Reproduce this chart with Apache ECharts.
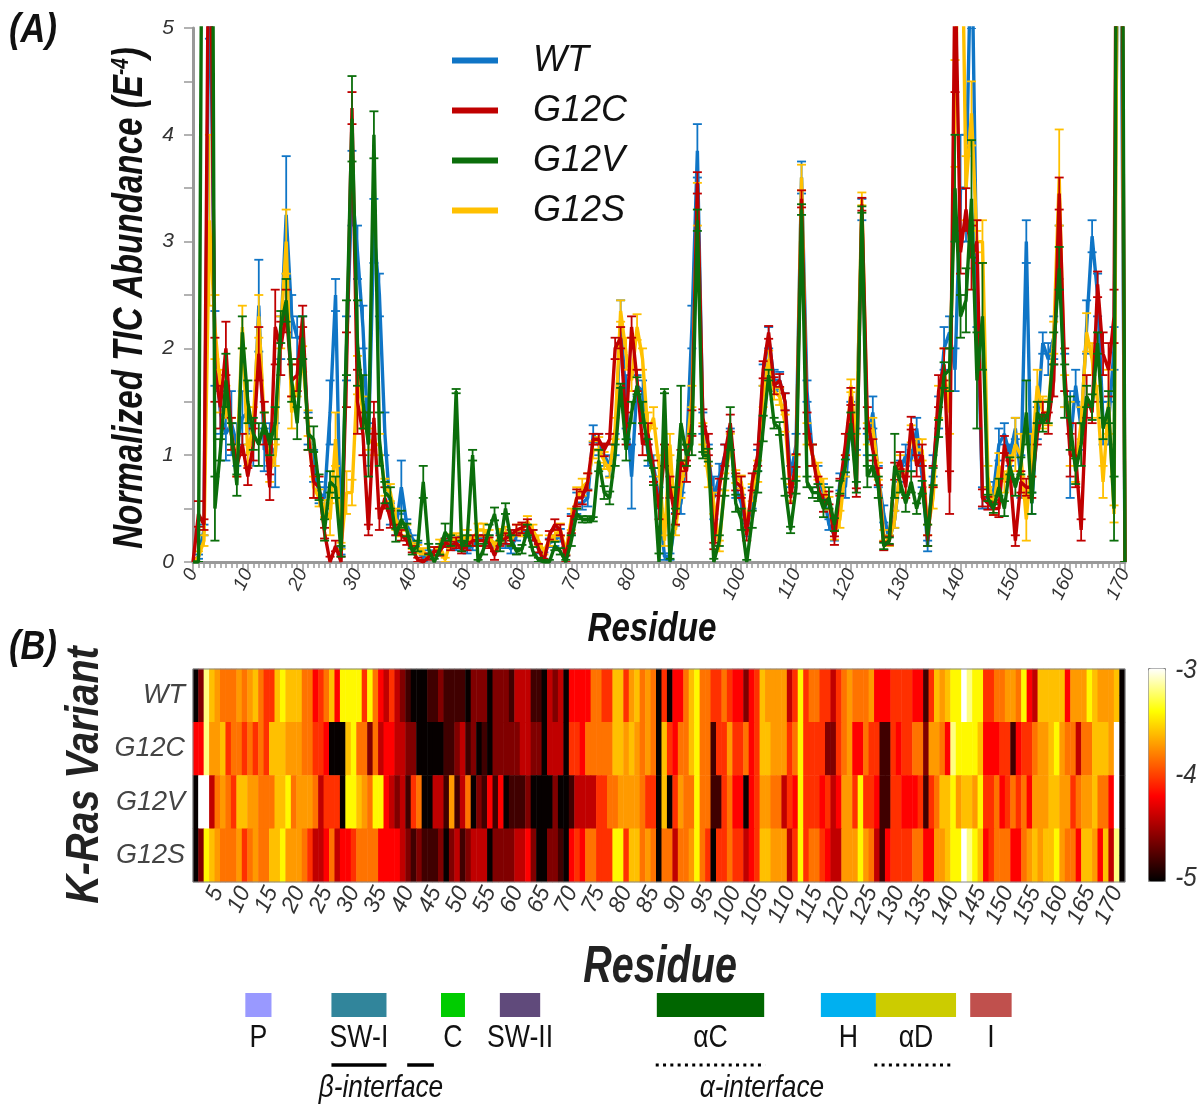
<!DOCTYPE html>
<html><head><meta charset="utf-8">
<style>html,body{margin:0;padding:0;background:#fff}#c{width:1197px;height:1105px}</style>
<script src="https://cdn.jsdelivr.net/npm/echarts@6/dist/echarts.min.js"></script>
</head><body><div id="c"></div>
<script>
const names=['WT','G12C','G12V','G12S'];
const valWT=[0,.05,.3,6,2,1.4,1.2,1.3,1.1,1.35,
1.4,1.1,2.4,1.05,1.1,1,2.1,3.25,2.3,2.1,
2.1,1.25,.9,.65,.6,1.4,2.5,.1,2,3.5,
2.9,2.2,1.1,3.1,2.5,1.2,.45,.3,.7,.35,
.22,.15,.03,.08,.1,.1,.18,.16,.15,.2,
.12,.15,.2,.25,.2,.15,.22,.18,.12,.25,
.3,.28,.25,.12,.06,.18,.2,.25,.1,.35,
.55,.55,.6,1.2,1.1,1,.9,1.1,2.25,1.5,
.8,1.65,1.6,1,.9,.6,.05,.05,.4,.55,
1,2.2,3.85,1.3,1,.6,.8,1,1.15,.7,
.55,.3,.6,.95,1.75,2.1,1.7,1.7,1.5,.8,
1.1,3.6,1.6,1,.8,.65,.35,.25,.75,.7,
1.4,1.15,3.3,1.1,1.4,.8,.45,.2,.4,.85,
1,.95,1.25,.8,.15,.9,1.4,2,2.15,1.8,
3.5,3.5,6,2.5,.6,.6,.65,1.1,1.2,1,
1.25,.8,3,.55,1.3,2.05,1.9,2.1,2.9,1.7,
1.1,1.65,1.25,2.2,3.05,2.5,1.3,1.3,2,8,0];
const valG12C=[0,.45,.35,7,1.8,1.45,2,1.2,.9,1.1,
.8,1.1,1.95,1.3,.7,2.2,2,2.35,1.7,1.75,
2.3,1.2,.75,.7,.27,0,.15,0,1.8,4.25,
1.5,1.2,.3,1.35,.4,.6,.4,.3,.25,.2,
.12,.02,0,.05,.1,.1,.18,.15,.18,.12,
.15,.2,.2,.2,.18,.06,.2,.22,.25,.3,
.32,.35,.25,.13,0,.25,.35,.3,.03,.35,
.6,.6,.75,1.15,1.15,1.05,1.15,2,2.1,1.25,
2.2,1.7,1.1,1.2,.85,.5,1,.7,.4,.95,
.85,1.3,3.55,1.35,1.1,.15,.7,1,1.3,.75,
.7,.25,.75,1,1.8,2.15,1.65,1.7,1.5,.6,
.95,3.4,1.3,1,.7,.55,.6,.2,.7,1.1,
1.55,.65,3.35,1.35,1.05,.8,.15,.2,.85,.95,
.7,1.3,.9,1,.2,.8,1.6,1.85,.65,5.6,
2.9,3.3,2.85,3,.6,.55,.5,.5,1.1,.85,
.2,.75,.7,.7,1.2,1.4,1.3,1.7,3.45,1.8,
1,1,.3,1.55,1.4,2.6,1.95,1.8,2.3,12,0];
const valG12V=[0,0,10,14,.5,1.05,1.7,1.2,.72,2.15,
1.5,1.2,1.1,1.3,1.1,1.3,2.2,2.45,1.7,1.3,
2.1,1.2,1.15,.7,.3,.75,.7,.1,2.1,4.15,
2.05,1.5,1.1,4,1.15,.65,.6,.25,.4,.3,
.1,.15,.75,.12,0,.12,.28,.2,1.6,.15,
.2,1,0,.12,.3,.45,.15,.5,.2,.1,
.12,.3,.1,.02,0,0,.15,.1,0,.2,
.45,.4,.4,.4,.95,.65,.6,1,1.65,1.05,
1.4,1.65,1.4,1.05,.8,0,1.6,0,.6,1.3,
1,1.1,3.2,1,1,0,.2,.7,1.25,.55,
.4,0,.4,.75,1.25,1.75,1.3,1.25,.7,.3,
.7,3.3,.75,.65,.65,.5,.6,.35,.7,.9,
1.3,.7,3.3,.8,.9,.7,.15,.2,.9,.75,
.55,.75,.5,.7,.25,.8,1.25,1.75,1.8,3.5,
2.3,2.45,3.4,1.7,2.3,.6,.5,.7,.5,.9,
.7,.9,1.4,.55,1.4,1.3,1.4,2,2.75,1.6,
1.3,.85,1.1,1.55,1.45,2.05,1.25,1.45,.5,14,0];
const valG12S=[0,.05,.2,3.2,2.2,1.6,1.5,1.2,.9,2.2,
1,1.3,2.3,1.3,.85,1,2.15,3,1.4,1.7,
1.9,1.3,.7,.6,.5,.4,1.15,.15,.65,.65,
1.75,1.4,1.15,1.1,1.1,.7,.65,.4,.3,.3,
.15,.12,.1,.05,.1,.15,.02,.2,.22,.2,
.25,.2,.3,.3,.25,.15,.25,.28,.2,.3,
.3,.38,.3,.2,.1,.2,.25,.3,.1,.4,
.6,.7,.75,1.05,1.05,.95,.85,1.25,2.35,1.95,
1.7,2.2,1.9,1.2,1.35,.9,.2,1.1,.3,.7,
1,1.55,3.35,1.2,.8,.55,.15,.75,1.1,.8,
.75,.35,.65,.85,1.55,1.9,1.6,1.55,1.3,.65,
.9,3.6,1.2,1,.85,.7,.55,.25,.4,.9,
1.65,1.1,3.4,1.2,1.25,.85,.25,.2,.4,.9,
.75,1.2,1.05,1.05,.3,.6,1.5,1.8,1.4,4.2,
7,3.5,4.2,3,3,.8,.5,.9,.75,.9,
1.1,1,.4,1,1.65,1.4,1.4,2.1,3.6,1.6,
1.2,.9,1.3,2.15,1.9,1.5,.75,1.5,.45,10,0];
const errWT=[0,.02,.05,1.1,.35,.2,.25,.3,.2,.25,
.2,.2,.43,.2,.2,.3,.2,.55,.2,.2,
.2,.15,.15,.1,.1,.3,.15,.03,.3,.35,
.25,.2,.2,.3,.2,.2,.1,.05,.25,.05,
.03,.03,.03,.03,.04,.04,.04,.04,.04,.04,
.04,.04,.05,.05,.05,.04,.05,.05,.04,.05,
.05,.05,.05,.04,.03,.04,.05,.06,.04,.1,
.1,.06,.08,.08,.1,.1,.1,.1,.2,.25,
.3,.1,.1,.1,.1,.1,.03,.03,.06,.1,
.1,.2,.25,.1,.1,.2,.12,.1,.1,.1,
.08,.06,.1,.1,.1,.1,.1,.08,.08,.1,
.1,.15,.1,.1,.1,.08,.05,.05,.08,.1,
.1,.1,.1,.1,.15,.1,.08,.05,.08,.1,
.1,.1,.1,.1,.05,.1,.15,.2,.15,.2,
.5,.5,1,.3,.1,.1,.1,.15,.1,.1,
.1,.2,.2,.1,.15,.1,.15,.2,.25,.25,
.5,.15,.2,.25,.15,.2,.2,.2,.2,1,0];
const errG12C=[0,.12,.05,1,.3,.2,.25,.15,.1,.1,
.08,.15,.25,.2,.12,.35,.25,.2,.15,.15,
.1,.15,.15,.1,.05,.05,.05,.05,.35,.15,
.3,.2,.05,.15,.1,.1,.08,.05,.05,.04,
.03,.02,.02,.03,.04,.04,.04,.04,.05,.04,
.04,.05,.05,.05,.05,.04,.05,.05,.05,.05,
.05,.05,.05,.04,.03,.04,.05,.05,.03,.08,
.08,.06,.08,.05,.05,.06,.05,.1,.1,.15,
.1,.1,.1,.1,.1,.1,.1,.1,.05,.1,
.1,.12,.1,.08,.1,.03,.08,.1,.08,.08,
.1,.05,.08,.1,.08,.06,.08,.06,.08,.05,
.06,.08,.1,.1,.1,.08,.06,.04,.08,.1,
.08,.04,.06,.1,.1,.08,.04,.04,.08,.08,
.1,.06,.1,.1,.05,.1,.15,.15,.2,1.2,
.2,.2,.3,.2,.08,.06,.06,.08,.08,.1,
.05,.1,.08,.1,.1,.1,.1,.15,.15,.2,
.2,.3,.1,.2,.1,.12,.2,.25,.25,1,0];
const errG12V=[0,0,1,1,.3,.1,.25,.1,.1,.15,
.2,.15,.2,.1,.1,.15,.15,.2,.2,.15,
.2,.15,.12,.12,.1,.1,.1,.05,.35,.4,
.4,.25,.3,.22,.25,.1,.1,.06,.08,.06,
.03,.05,.15,.05,.03,.05,.08,.05,.02,.05,
.05,.05,.02,.05,.05,.06,.05,.05,.05,.03,
.04,.05,.04,.02,.02,.02,.04,.03,.02,.05,
.05,.03,.03,.02,.1,.06,.06,.1,.02,.1,
.1,.08,.1,.1,.08,.08,.02,.03,.1,.35,
.1,.1,.1,.03,.06,.03,.05,.08,.2,.08,
.1,.02,.08,.1,.12,.05,.05,.06,.08,.03,
.06,.05,.05,.05,.08,.08,.1,.06,.06,.06,
.1,.05,.03,.1,.1,.1,.03,.03,.3,.1,
.08,.1,.05,.06,.1,.08,.08,.12,.2,.5,
.2,.3,.55,.45,.5,.03,.04,.08,.07,.08,
.08,.08,.3,.1,.1,.08,.1,.15,.2,.25,
.25,.12,.2,.1,.12,.1,.1,.15,.3,1,0];
const errG12S=[0,.05,.05,.8,.3,.2,.15,.15,.1,.2,
.1,.15,.2,.1,.1,.1,.15,.3,.15,.15,
.12,.12,.1,.08,.08,.15,.25,.03,.2,.12,
.18,.15,.1,.1,.1,.08,.08,.1,.06,.05,
.03,.04,.03,.02,.04,.06,.02,.06,.05,.05,
.05,.05,.06,.06,.05,.04,.06,.05,.05,.05,
.06,.05,.05,.05,.03,.05,.05,.06,.03,.1,
.1,.08,.08,.08,.12,.08,.06,.1,.1,.15,
.1,.12,.1,.2,.1,.1,.05,.1,.05,.1,
.1,.1,.2,.1,.1,.1,.05,.08,.1,.06,
.06,.06,.08,.1,.1,.08,.08,.08,.08,.08,
.1,.12,.1,.1,.08,.08,.06,.04,.08,.1,
.06,.1,.06,.1,.1,.08,.05,.05,.08,.1,
.1,.08,.1,.1,.05,.1,.15,.2,.2,.5,
1,.3,.3,.1,.2,.1,.06,.12,.1,.1,
.25,.2,.2,.2,.15,.15,.12,.15,.45,.15,
.3,.15,.15,.18,.15,.15,.15,.3,.08,1,0];
const K=-4.98,D=-4.8,M=-4.6,C=-4.4,R=-4.2,T=-4.05,O=-3.84,A=-3.72,G=-3.6,Y=-3.42,P=-3.2,W=-3;
const heatWT=[K,M,P,G,A,O,O,O,A,O,
A,G,O,T,T,G,Y,G,G,G,
O,O,R,T,O,G,R,Y,Y,Y,
Y,T,Y,O,R,C,T,C,M,D,
K,K,K,D,D,M,D,D,D,D,
K,M,M,M,K,M,M,M,D,C,
C,C,D,D,K,C,M,C,K,R,
R,R,R,O,O,T,T,G,G,T,
A,G,O,A,O,K,T,K,R,R,
O,G,Y,O,O,T,T,O,T,R,
R,M,R,T,G,A,A,A,A,C,
T,Y,T,O,O,T,T,C,T,O,
A,O,O,O,A,R,R,R,T,T,
T,T,R,R,D,T,G,A,G,Y,
Y,W,P,Y,Y,T,T,O,O,A,
A,O,Y,R,C,G,G,G,G,G,
R,A,A,A,Y,G,A,A,A,G,K];
const heatG12C=[R,R,P,A,A,G,T,O,O,T,
O,T,O,T,G,G,G,A,A,A,
O,O,T,T,R,K,K,K,G,Y,
O,O,M,O,C,R,R,C,C,M,
M,K,K,K,K,K,D,D,M,C,
D,M,K,D,K,M,M,M,M,M,
C,C,M,M,K,C,C,C,K,T,
T,R,O,O,O,O,O,G,G,A,
G,A,O,A,O,K,G,T,R,O,
O,G,Y,O,O,D,T,T,A,T,
T,O,R,T,G,G,A,A,A,T,
O,Y,T,T,T,T,M,M,T,O,
A,R,R,O,T,T,D,D,T,R,
T,T,O,O,M,A,A,O,R,P,
Y,Y,Y,Y,G,R,R,R,T,T,
D,R,T,T,O,A,A,G,Y,A,
O,O,C,O,O,G,G,G,A,W,K];
const heatG12V=[K,W,W,C,O,A,O,T,G,G,
A,A,O,O,O,G,G,Y,O,A,
A,A,O,C,T,T,T,K,Y,Y,
G,A,O,Y,Y,R,C,M,C,D,
T,O,K,K,C,C,D,A,D,C,
O,K,M,D,R,D,R,K,D,D,
D,M,K,K,K,K,M,K,K,D,
C,C,C,C,T,T,O,O,A,A,
A,A,O,T,T,K,G,K,T,A,
O,O,Y,O,O,D,D,T,O,R,
R,K,R,T,A,A,O,O,C,T,
R,Y,T,T,T,R,T,C,R,A,
A,T,Y,T,T,R,D,D,T,T,
R,R,R,T,D,T,O,G,G,Y,
A,G,G,A,Y,T,T,O,R,T,
O,T,O,R,A,A,A,G,G,A,
A,T,O,A,A,G,O,O,R,W,K];
const heatG12S=[K,M,Y,G,A,O,O,O,A,T,
O,A,O,O,G,G,Y,A,A,A,
O,T,C,C,R,O,C,R,R,T,
O,O,O,O,R,R,R,R,C,M,
D,M,D,D,D,M,K,M,C,D,
M,C,C,C,K,M,M,M,M,C,
C,R,M,K,K,M,M,D,K,R,
T,R,O,O,T,T,T,Y,Y,T,
G,G,O,A,O,K,O,O,C,O,
O,A,Y,O,T,K,T,T,O,T,
T,C,R,T,G,G,A,A,A,C,
T,Y,T,O,O,T,R,C,C,A,
A,A,Y,A,O,C,D,R,T,T,
T,T,O,O,R,R,A,A,G,Y,
Y,W,P,Y,G,R,T,O,O,O,
R,R,O,A,G,A,G,G,Y,A,
O,O,R,G,G,A,R,G,C,P,K];
const regionNames=['P','SW-I','C','SW-II','αC','H','αD','I'];
const regionStarts=[9.6,25.4,45.5,56.3,85.1,115.2,125.3,142.6];
const regionEnds=[14.4,35.5,49.9,63.7,104.8,125.3,140,150.2];
const regionColors=['#9999ff','#31859b','#00cc00','#604a7b','#006600','#00b0f0','#cccc00','#c0504d'];
const solidStarts=[25.4,39.3], solidEnds=[35.5,44.2];
const dotStarts=[84.9,125], dotEnds=[105,139.4];

const FN='"Liberation Sans",Arial,sans-serif';
const seriesColors={WT:'#0f75c6',G12C:'#c00000',G12V:'#0b6e0b',G12S:'#ffc000'};
const vals={WT:valWT,G12C:valG12C,G12V:valG12V,G12S:valG12S};
const errs={WT:errWT,G12C:errG12C,G12V:errG12V,G12S:errG12S};
const heats=[heatWT,heatG12C,heatG12V,heatG12S];
const residues=valWT.map((_,i)=>i);
const cols=heatWT.map((_,i)=>String(i+1));
const heatData=[];
heats.forEach((row,r)=>row.forEach((h,c)=>heatData.push([c,r,h])));

const order=['WT','G12S','G12C','G12V'];
const series=[];
order.forEach((n,k)=>{
  series.push({name:n+' error',type:'custom',xAxisIndex:0,yAxisIndex:0,clip:true,z:3+k,silent:true,animation:false,
    data:vals[n].map((v,i)=>[i,v-errs[n][i],v+errs[n][i]]),
    encode:{x:0,y:[1,2]},
    renderItem:(p,api)=>{
      const x=api.value(0),a=api.coord([x,api.value(1)]),b=api.coord([x,api.value(2)]);
      const st={stroke:seriesColors[n],lineWidth:1.8};
      return {type:'group',children:[
        {type:'line',shape:{x1:a[0],y1:a[1],x2:b[0],y2:b[1]},style:st},
        {type:'line',shape:{x1:a[0]-4.5,y1:a[1],x2:a[0]+4.5,y2:a[1]},style:st},
        {type:'line',shape:{x1:b[0]-4.5,y1:b[1],x2:b[0]+4.5,y2:b[1]},style:st}]};
    }});
  series.push({name:n,type:'line',xAxisIndex:0,yAxisIndex:0,z:3+k,data:residues.map(i=>[i,vals[n][i]]),
    showSymbol:false,clip:true,animation:false,silent:true,
    lineStyle:{color:seriesColors[n],width:3.4},itemStyle:{color:seriesColors[n]}});
});
const heatSeriesIndex=series.length;
series.push({name:'heat',type:'heatmap',xAxisIndex:1,yAxisIndex:1,data:heatData,animation:false,silent:true,z:2});
series.push({name:'regions',type:'custom',xAxisIndex:3,yAxisIndex:3,clip:false,animation:false,silent:true,
  data:regionStarts.map((s,i)=>[s,regionEnds[i]]),encode:{x:[0,1]},
  renderItem:(p,api)=>{
    const a=api.coord([api.value(0),1]),b=api.coord([api.value(1),0]);
    const cx=(a[0]+b[0])/2;
    return {type:'group',children:[
      {type:'rect',shape:{x:a[0],y:a[1],width:b[0]-a[0],height:b[1]-a[1]},style:{fill:regionColors[p.dataIndex]}},
      {type:'text',x:cx,y:b[1]+21,scaleX:.86,style:{x:0,y:0,text:regionNames[p.dataIndex],textAlign:'center',textVerticalAlign:'middle',
        font:'31px '+FN,fill:'#111'}}]};
  }});
const ifaceSeries=(starts,ends,dash,width)=>({type:'custom',xAxisIndex:4,yAxisIndex:4,clip:false,animation:false,silent:true,
  data:starts.map((s,i)=>[s,ends[i]]),encode:{x:[0,1]},
  renderItem:(p,api)=>{const a=api.coord([api.value(0),0.5]),b=api.coord([api.value(1),0.5]);
    return {type:'line',shape:{x1:a[0],y1:a[1],x2:b[0],y2:b[1]},style:{stroke:'#000',lineWidth:width,lineDash:dash}};}});
series.push(ifaceSeries(solidStarts,solidEnds,null,3.5));
series.push(ifaceSeries(dotStarts,dotEnds,[3,4.3],3));

const grey='#333';
const label=(text,x,y,size,sx,opts={})=>Object.assign({type:'text',x,y,scaleX:sx,rotation:opts.rot||0,z:20,
  style:{x:0,y:0,text,textAlign:opts.align||'center',textVerticalAlign:'middle',fill:opts.fill||'#111',
    font:(opts.style||'italic bold')+' '+size+'px '+FN,rich:opts.rich}});
const opt={
  animation:false,backgroundColor:'#fff',
  grid:[
    {left:193,top:28,width:932,height:534,show:false},
    {left:193,top:669,width:932,height:213,show:true,borderColor:'#888',borderWidth:1,z:5,backgroundColor:'transparent'},
    {left:193,top:669,width:932,height:213,show:false},
    {left:193,top:993,width:932,height:24,show:false},
    {left:193,top:1063,width:932,height:4,show:false}],
  xAxis:[
    {type:'value',gridIndex:0,min:0,max:170,interval:10,
     axisLine:{lineStyle:{color:'#999',width:3}},
     axisTick:{length:9,lineStyle:{color:'#999',width:1.5}},
     minorTick:{show:true,splitNumber:10,length:6,lineStyle:{color:'#999',width:1.5}},
     splitLine:{show:false},
     axisLabel:{rotate:65,fontSize:19,fontStyle:'italic',fontFamily:FN,color:grey,margin:8}},
    {type:'category',gridIndex:1,data:cols,position:'bottom',
     axisLine:{show:false},
     axisTick:{show:true,inside:true,length:7,alignWithLabel:true,interval:i=>(i+1)%5===0,lineStyle:{color:'#555',width:1}},
     splitLine:{show:false},splitArea:{show:false},
     axisLabel:{interval:i=>(i+1)%5===0&&i<170,showMinLabel:true,showMaxLabel:true,rotate:65,fontSize:23,fontStyle:'italic',fontFamily:FN,color:grey,margin:6}},
    {type:'category',gridIndex:2,data:cols,position:'top',
     axisLine:{show:false},axisLabel:{show:false},splitLine:{show:false},
     axisTick:{show:true,inside:true,length:7,alignWithLabel:true,interval:i=>(i+1)%5===0,lineStyle:{color:'#555',width:1}}},
    {type:'value',gridIndex:3,min:0,max:171,show:false},
    {type:'value',gridIndex:4,min:0,max:171,show:false}],
  yAxis:[
    {type:'value',gridIndex:0,min:0,max:5,interval:.5,
     axisLine:{show:true,lineStyle:{color:'#999',width:3}},
     axisTick:{show:true,length:9,lineStyle:{color:'#999',width:1.5}},
     splitLine:{show:false},
     axisLabel:{formatter:v=>Number.isInteger(v)?String(v):'',fontSize:21,fontStyle:'italic',fontFamily:FN,color:grey,margin:19}},
    {type:'category',gridIndex:1,data:names,inverse:true,
     axisLine:{show:false},axisTick:{show:false},splitLine:{show:false},splitArea:{show:false},
     axisLabel:{fontSize:27,fontStyle:'italic',fontFamily:FN,color:'#444',margin:8}},
    {type:'category',gridIndex:2,data:names,inverse:true,position:'right',
     axisLine:{show:false},axisLabel:{show:false},splitLine:{show:false},
     axisTick:{show:true,inside:true,length:7,alignWithLabel:true,lineStyle:{color:'#555',width:1}}},
    {type:'value',gridIndex:3,min:0,max:1,show:false},
    {type:'value',gridIndex:4,min:0,max:1,show:false}],
  visualMap:{type:'continuous',seriesIndex:heatSeriesIndex,dimension:2,min:-5,max:-3,calculable:false,
    left:1148,top:668,itemWidth:17,itemHeight:213,padding:0,text:null,borderColor:'#888',borderWidth:1,
    showLabel:false,
    inRange:{color:['#000000','#400000','#800000','#c00000','#ff0000','#ff4000','#ff8000','#ffc000','#ffff00','#ffff80','#ffffff']},
    textStyle:{color:'transparent',fontSize:1}},
  legend:{data:['WT','G12C','G12V','G12S'],orient:'vertical',left:447,top:33,itemWidth:46,itemHeight:6,itemGap:5,
    icon:'rect',selectedMode:false,
    textStyle:{fontSize:36,fontStyle:'italic',fontFamily:FN,color:'#111',padding:[0,0,0,30],lineHeight:45}},
  series,
  graphic:[
    label('{a|Normalized TIC Abundance (E}{s|-4}{a|)}',130,298,42,.79,{rot:Math.PI/2,rich:{
      a:{fontSize:42,fontWeight:'bold',fontStyle:'italic',fontFamily:FN,fill:'#111',color:'#111'},
      s:{fontSize:24,fontWeight:'bold',fontStyle:'italic',fontFamily:FN,fill:'#111',color:'#111',verticalAlign:'top',padding:[0,0,16,0]}}}),
    label('Residue',652,630,40,.83),
    label('Residue',660,968,52,.76,{fill:'#222'}),
    label('K-Ras Variant',85,775,47,.84,{rot:Math.PI/2,fill:'#222'}),
    label('(A)',33,31,40,.86),
    label('(B)',33,648,40,.86),
    label('-3',1186,670,28,.86,{style:'italic',fill:'#333'}),
    label('-4',1186,775,28,.86,{style:'italic',fill:'#333'}),
    label('-5',1186,878,28,.86,{style:'italic',fill:'#333'}),
    label('β-interface',381,1088,32,.82,{style:'italic'}),
    label('α-interface',762,1088,32,.82,{style:'italic'})]
};
const chart=echarts.init(document.getElementById('c'),null,{renderer:'canvas'});
chart.setOption(opt);
</script></body></html>
